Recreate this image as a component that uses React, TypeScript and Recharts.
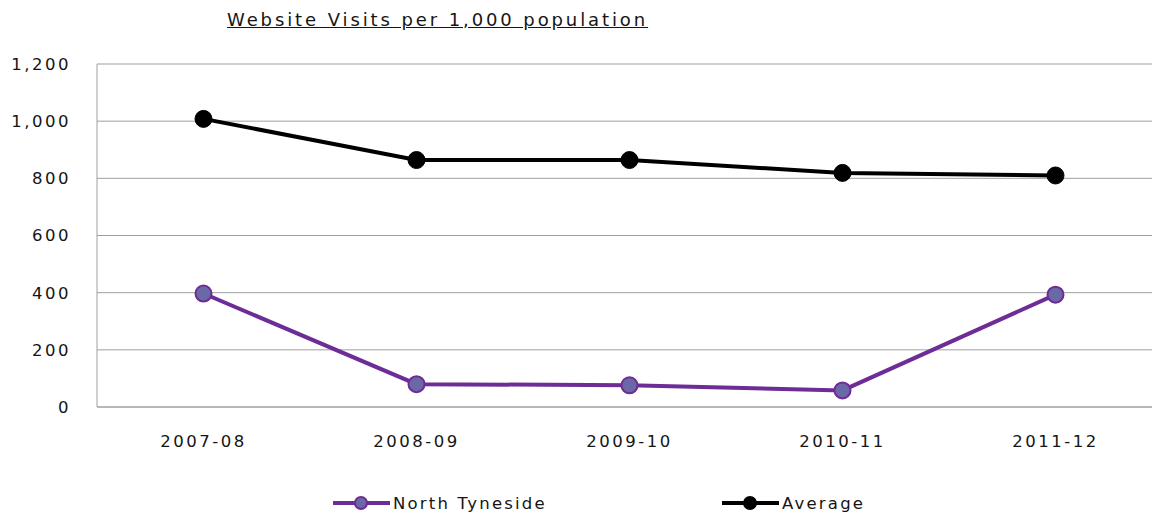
import { LineChart, Line, XAxis, YAxis, CartesianGrid, Legend } from "recharts"

// values
const years = ["2007-08", "2008-09", "2009-10", "2010-11", "2011-12"]
const northTyneside = [397, 80, 76, 58, 393]
const average = [1008, 864, 864, 819, 810]
const yTicks = [0, 200, 400, 600, 800, 1000, 1200]

const data = years.map((year, i) => ({
  year,
  northTyneside: northTyneside[i],
  average: average[i],
}))

const FONT = "'DejaVu Sans', Verdana, sans-serif"
const PURPLE = "#6e2c96"
const PURPLE_FILL = "#6a68a6"
const TEXT = "#151515"

function LegendContent() {
  const item = (label: string, stroke: string, fill: string, r: number, x: number) => (
    <g transform={`translate(${x},0)`}>
      <line x1={0} y1={15} x2={57} y2={15} stroke={stroke} strokeWidth={4} />
      <circle cx={28} cy={15} r={r} fill={fill} stroke={stroke} strokeWidth={2} />
      <text x={60} y={21} fontSize={16.5} fill={TEXT} letterSpacing={2.2} fontFamily={FONT}>
        {label}
      </text>
    </g>
  )
  return (
    <svg width={1130} height={30} style={{ display: "block" }}>
      {item("North Tyneside", PURPLE, PURPLE_FILL, 6, 316)}
      {item("Average", "#000", "#000", 6, 705)}
    </svg>
  )
}

export default function App() {
  return (
    <div style={{ width: 1152, height: 518, overflow: "hidden", position: "relative", background: "#fff" }}>
      <style>{"body { margin: 0; }"}</style>
      <div
        style={{
          position: "absolute",
          left: 227,
          top: 9,
          fontFamily: FONT,
          fontSize: 18,
          letterSpacing: 2.9,
          textDecoration: "underline",
          color: TEXT,
          whiteSpace: "nowrap",
        }}
      >
        Website Visits per 1,000 population
      </div>
      <LineChart
        width={1152}
        height={518}
        data={data}
        margin={{ top: 64, right: -10, left: 17, bottom: 0 }}
      >
        <CartesianGrid vertical={false} stroke="#a0a0a0" strokeWidth={1} />
        <XAxis
          dataKey="year"
          scale="band"
          axisLine={{ stroke: "#a0a0a0" }}
          tickLine={false}
          tickMargin={22}
          height={81}
          tick={{ fill: TEXT, fontSize: 16.5, fontFamily: FONT, letterSpacing: 2.5 }}
        />
        <YAxis
          domain={[0, 1200]}
          ticks={yTicks}
          width={80}
          axisLine={{ stroke: "#a0a0a0" }}
          tickLine={false}
          tickMargin={20}
          tickFormatter={(v: number) => v.toLocaleString("en-US")}
          tick={{ fill: TEXT, fontSize: 16.5, fontFamily: FONT, letterSpacing: 2.5 }}
        />
        <Legend verticalAlign="bottom" height={30} content={() => <LegendContent />} />
        <Line
          dataKey="northTyneside"
          name="North Tyneside"
          stroke={PURPLE}
          strokeWidth={4}
          dot={{ r: 8, fill: PURPLE_FILL, stroke: PURPLE, strokeWidth: 2 }}
          activeDot={false}
          isAnimationActive={false}
        />
        <Line
          dataKey="average"
          name="Average"
          stroke="#000"
          strokeWidth={4}
          dot={{ r: 8.5, fill: "#000", stroke: "#000", strokeWidth: 1 }}
          activeDot={false}
          isAnimationActive={false}
        />
      </LineChart>
    </div>
  )
}
